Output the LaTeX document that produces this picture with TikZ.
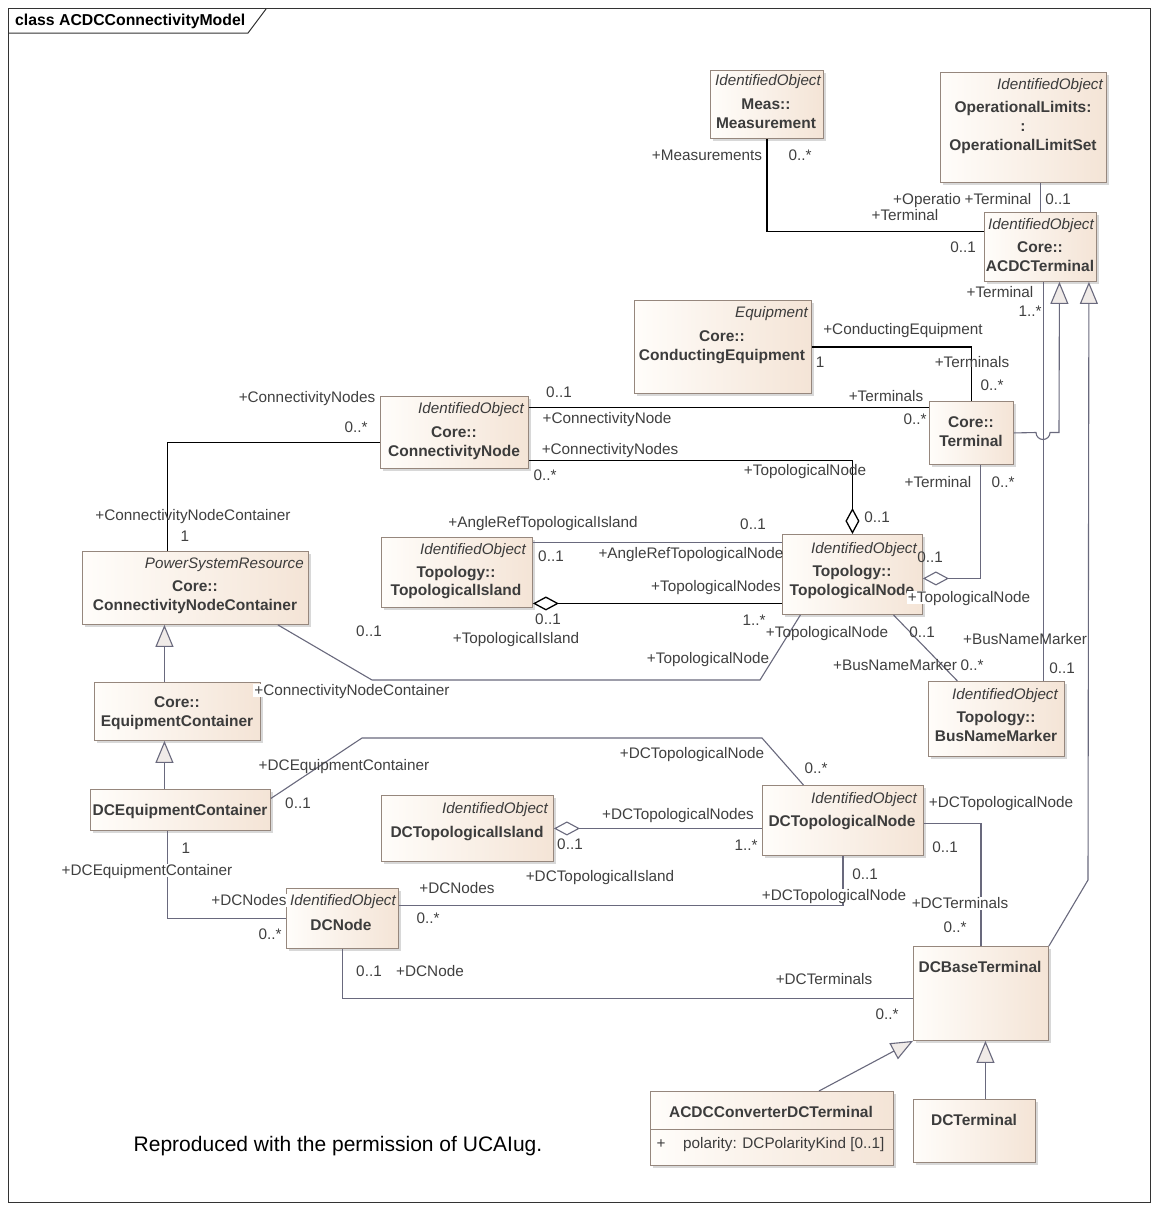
\documentclass[tikz,border=0pt]{standalone}
\usepackage{fontspec}
\setmainfont{Liberation Sans}
\usetikzlibrary{arrows.meta,shadows}
\definecolor{boxc}{RGB}{150,135,125}
\definecolor{fillL}{RGB}{255,253,250}
\definecolor{fillR}{RGB}{244,228,214}
\definecolor{txtc}{RGB}{60,60,60}
\definecolor{lblc}{RGB}{64,64,64}
\definecolor{grayc}{RGB}{105,105,125}
\definecolor{trifill}{RGB}{240,235,232}
\tikzset{
  cls/.style={draw=boxc, line width=0.9pt, left color=fillL, right color=fillR,
    drop shadow={shadow xshift=3pt,shadow yshift=-3pt,fill=black!30,opacity=0.5},
    inner sep=0pt, anchor=north west},
  cname/.style={font=\bfseries\fontsize{15.5}{19}\selectfont, text=txtc, inner sep=0pt, text height=11.2pt, text depth=0pt},
  ster/.style={font=\itshape\fontsize{15.2}{17}\selectfont, text=txtc, inner sep=0pt, anchor=east, text height=10.8pt, text depth=0pt},
  lbl/.style={font=\fontsize{15.3}{18}\selectfont, text=lblc, inner sep=1pt, text height=11pt, text depth=0pt},
  lblw/.style={lbl, fill=white},
  blk/.style={draw=black, line width=1.3pt},
  gry/.style={draw=grayc, line width=1.1pt},
  gen/.style={gry, arrows={-{Triangle[length=22pt,width=18pt,fill=trifill]}}},
  aggd/.style={arrows={{Diamond[length=26pt,width=14pt,fill=white]}-}},
}
\begin{document}
\begin{tikzpicture}[x=1pt,y=-1pt]
\useasboundingbox (0,0) rectangle (1158,1210);
\fill[white] (0,0) rectangle (1158,1210);
% frame
\draw[line width=1pt, draw=black!80] (8,8) rectangle (1150,1202);
\draw[line width=1pt, draw=black!80] (8,33) -- (248,33) -- (266,9);
\node[font=\bfseries\fontsize{15.8}{18}\selectfont, anchor=west, inner sep=0pt, text=black] (title) at (15,21) {class ACDCConnectivityModel};

% boxes
\node[cls, minimum width=113, minimum height=68] (meas) at (710,70) {};
\node[cls, minimum width=166, minimum height=110] (opl) at (940,72) {};
\node[cls, minimum width=112, minimum height=69] (acdct) at (984,212) {};
\node[cls, minimum width=177, minimum height=93] (condeq) at (634,300) {};
\node[cls, minimum width=148, minimum height=72] (cn) at (380,396) {};
\node[cls, minimum width=84, minimum height=63] (term) at (929,401) {};
\node[cls, minimum width=226, minimum height=73] (cnc) at (82,551) {};
\node[cls, minimum width=151, minimum height=70] (ti) at (381,537) {};
\node[cls, minimum width=140, minimum height=80] (tn) at (782,534) {};
\node[cls, minimum width=136, minimum height=75] (bnm) at (928,681) {};
\node[cls, minimum width=166, minimum height=58] (eqc) at (94,682) {};
\node[cls, minimum width=180, minimum height=41] (dceqc) at (90,789) {};
\node[cls, minimum width=172, minimum height=66] (dcti) at (381,795) {};
\node[cls, minimum width=161, minimum height=70] (dctn) at (762,785) {};
\node[cls, minimum width=112, minimum height=60] (dcn) at (286,888) {};
\node[cls, minimum width=135, minimum height=94] (dcbt) at (913,946) {};
\node[cls, minimum width=243, minimum height=74] (acdccdt) at (650,1091) {};
\node[cls, minimum width=122, minimum height=63] (dct) at (913,1099) {};
\draw[draw=boxc, line width=0.9pt] ([yshift=-1]acdccdt.west) -- ([yshift=-1]acdccdt.east);

% box texts
\node[ster] (meas-s) at (821,80) {IdentifiedObject};
\node[cname] (meas-1) at (766,104) {Meas::};
\node[cname] (meas-2) at (766,123) {Measurement};
\node[ster] (opl-s) at (1103,84) {IdentifiedObject};
\node[cname] (opl-1) at (1023,107) {OperationalLimits:};
\node[cname] (opl-2) at (1023,126) {:};
\node[cname] (opl-3) at (1023,145) {OperationalLimitSet};
\node[ster] (acdct-s) at (1094,224) {IdentifiedObject};
\node[cname] (acdct-1) at (1040,247) {Core::};
\node[cname] (acdct-2) at (1040,266) {ACDCTerminal};
\node[ster] (condeq-s) at (808,312) {Equipment};
\node[cname] (condeq-1) at (722,336) {Core::};
\node[cname] (condeq-2) at (722,355) {ConductingEquipment};
\node[ster] (cn-s) at (524,408) {IdentifiedObject};
\node[cname] (cn-1) at (454,432) {Core::};
\node[cname] (cn-2) at (454,451) {ConnectivityNode};
\node[cname] (term-1) at (971,422) {Core::};
\node[cname] (term-2) at (971,441) {Terminal};
\node[ster] (cnc-s) at (304,563) {PowerSystemResource};
\node[cname] (cnc-1) at (195,586) {Core::};
\node[cname] (cnc-2) at (195,605) {ConnectivityNodeContainer};
\node[ster] (ti-s) at (526,549) {IdentifiedObject};
\node[cname] (ti-1) at (456,572) {Topology::};
\node[cname] (ti-2) at (456,590) {TopologicalIsland};
\node[ster] (tn-s) at (917,548) {IdentifiedObject};
\node[cname] (tn-1) at (852,571) {Topology::};
\node[cname] (tn-2) at (852,590) {TopologicalNode};
\node[ster] (bnm-s) at (1058,694) {IdentifiedObject};
\node[cname] (bnm-1) at (996,717) {Topology::};
\node[cname] (bnm-2) at (996,736) {BusNameMarker};
\node[cname] (eqc-1) at (177,702) {Core::};
\node[cname] (eqc-2) at (177,721) {EquipmentContainer};
\node[cname] (dceqc-1) at (180,810) {DCEquipmentContainer};
\node[ster] (dcti-s) at (548,808) {IdentifiedObject};
\node[cname] (dcti-1) at (467,832) {DCTopologicalIsland};
\node[ster] (dctn-s) at (917,798) {IdentifiedObject};
\node[cname] (dctn-1) at (842,821) {DCTopologicalNode};
\node[ster] (dcn-s) at (396,900) {IdentifiedObject};
\node[cname] (dcn-1) at (341,925) {DCNode};
\node[cname] (dcbt-1) at (980,967) {DCBaseTerminal};
\node[cname] (acdccdt-1) at (771,1112) {ACDCConverterDCTerminal};
\node[lbl, text=txtc] (acdccdt-p) at (661,1143) {+};
\node[lbl, text=txtc, anchor=west] (acdccdt-a) at (682,1143) {polarity: DCPolarityKind [0..1]};
\node[cname] (dct-1) at (974,1120) {DCTerminal};

% connectors
\draw[blk] (meas.south) |- ([yshift=15.5]acdct.west);
\draw[gry] (acdct.north) -- (acdct.north |- opl.south);
\draw[gry] ([xshift=3]acdct.south) -- ([xshift=3]acdct.south |- bnm.north);
\draw[gen] (term.east) -- (1036,432.5) arc[start angle=180,end angle=0,radius=7] -- (1059,432.5) -- ([xshift=19]acdct.south);
\draw[gen] (dcbt.north east) -- (1088,880) -- ([xshift=-8]acdct.south east);
\draw[blk] (condeq.east) -| (term.north);
\draw[blk] ([yshift=25]cn.east) -- ([yshift=25.5]term.west);
\draw[blk, aggd] (tn.north) |- ([yshift=-28]cn.east);
\draw[blk] ([yshift=-10]cn.west) -| ([xshift=-28]cnc.north);
\draw[gry, aggd] ([yshift=-4]tn.east) -| ([xshift=9]term.south);
\draw[gry] ([yshift=30]ti.east) -- ([yshift=32]tn.west);
\draw[blk, aggd] ([yshift=-31]ti.east) -- ([yshift=-29]tn.west);
\draw[gry] ([xshift=-31]cnc.south east) -- (372,680) -- (760,680) -- ([xshift=-52]tn.south);
\draw[gry] ([xshift=41]tn.south) -- ([xshift=-39]bnm.north);
\draw[gen] ([xshift=-13]eqc.north) -- ([xshift=-13]eqc.north |- cnc.south);
\draw[gen] ([xshift=-16]dceqc.north) -- ([xshift=-16]dceqc.north |- eqc.south);
\draw[gry] ([yshift=11.5]dceqc.east) -- (362,738) -- (762,738) -- ([xshift=-39.5]dctn.north);
\draw[gry] ([xshift=-13]dceqc.south) |- (dcn.west);
\draw[gry, aggd] (dcti.east) -- (dcti.east -| dctn.west);
\draw[gry] ([yshift=13]dcn.east) -| (dctn.south);
\draw[gry] ([yshift=-3]dctn.east) -| (dcbt.north);
\draw[gry] (dcn.south) |- ([yshift=-5]dcbt.west);
\draw[gen] ([xshift=47]acdccdt.north) -- (dcbt.south west);
\draw[gen] ([xshift=11]dct.north) -- ([xshift=11]dct.north |- dcbt.south);

% labels
\node[lbl] (l1) at (707,155) {+Measurements};
\node[lbl] (l2) at (800,155) {0..*};
\node[lbl] (l3) at (905,215) {+Terminal};
\node[lbl] (l4) at (963,247) {0..1};
\node[lbl, anchor=east] (l5) at (962,199) {+Operatio};
\node[lblw] (l6) at (998,199) {+Terminal};
\node[lbl] (l7) at (1058,199) {0..1};
\node[lbl] (l8) at (1000,292) {+Terminal};
\node[lbl] (l9) at (1030,311) {1..*};
\node[lbl] (l10) at (1025,639) {+BusNameMarker};
\node[lbl] (l11) at (1062,668) {0..1};
\node[lbl] (l12) at (903,329) {+ConductingEquipment};
\node[lbl] (l13) at (820,362) {1};
\node[lbl] (l14) at (972,362) {+Terminals};
\node[lbl] (l15) at (992,385) {0..*};
\node[lbl] (l16) at (559,392) {0..1};
\node[lbl] (l17) at (607,418) {+ConnectivityNode};
\node[lbl] (l18) at (886,396) {+Terminals};
\node[lbl] (l19) at (915,419) {0..*};
\node[lbl] (l20) at (610,449) {+ConnectivityNodes};
\node[lbl] (l21) at (545,475) {0..*};
\node[lbl] (l22) at (805,470) {+TopologicalNode};
\node[lbl] (l23) at (877,517) {0..1};
\node[lbl] (l24) at (307,397) {+ConnectivityNodes};
\node[lbl] (l25) at (356,427) {0..*};
\node[lbl] (l26) at (193,515) {+ConnectivityNodeContainer};
\node[lbl] (l27) at (185,536) {1};
\node[lbl] (l28) at (543,522) {+AngleRefTopologicalIsland};
\node[lbl] (l29) at (753,524) {0..1};
\node[lbl] (l30) at (551,556) {0..1};
\node[lbl] (l31) at (691,553) {+AngleRefTopologicalNode};
\node[lbl] (l32) at (716,586) {+TopologicalNodes};
\node[lbl] (l33) at (754,620) {1..*};
\node[lbl] (l34) at (548,619) {0..1};
\node[lbl] (l35) at (516,638) {+TopologicalIsland};
\node[lbl] (l36) at (938,482) {+Terminal};
\node[lbl] (l37) at (1003,482) {0..*};
\node[lbl] (l38) at (930,557) {0..1};
\node[lblw] (l39) at (969,597) {+TopologicalNode};
\node[lbl] (l40) at (369,631) {0..1};
\node[lblw] (l41) at (352,690) {+ConnectivityNodeContainer};
\node[lbl] (l42) at (708,658) {+TopologicalNode};
\node[lbl] (l43) at (827,632) {+TopologicalNode};
\node[lbl] (l44) at (922,632) {0..1};
\node[lbl] (l45) at (895,665) {+BusNameMarker};
\node[lbl] (l46) at (972,665) {0..*};
\node[lbl] (l47) at (344,765) {+DCEquipmentContainer};
\node[lbl] (l48) at (298,803) {0..1};
\node[lbl] (l49) at (692,753) {+DCTopologicalNode};
\node[lbl] (l50) at (816,768) {0..*};
\node[lbl] (l51) at (186,848) {1};
\node[lblw] (l52) at (147,870) {+DCEquipmentContainer};
\node[lblw] (l53) at (249,900) {+DCNodes};
\node[lbl] (l54) at (270,934) {0..*};
\node[lbl] (l55) at (678,814) {+DCTopologicalNodes};
\node[lbl] (l56) at (570,844) {0..1};
\node[lbl] (l57) at (746,845) {1..*};
\node[lbl] (l58) at (600,876) {+DCTopologicalIsland};
\node[lbl] (l59) at (457,888) {+DCNodes};
\node[lbl] (l60) at (428,918) {0..*};
\node[lbl] (l61) at (865,874) {0..1};
\node[lblw] (l62) at (834,895) {+DCTopologicalNode};
\node[lbl] (l63) at (1001,802) {+DCTopologicalNode};
\node[lbl] (l64) at (945,847) {0..1};
\node[lblw] (l65) at (960,903) {+DCTerminals};
\node[lbl] (l66) at (955,927) {0..*};
\node[lbl] (l67) at (369,971) {0..1};
\node[lbl] (l68) at (430,971) {+DCNode};
\node[lbl] (l69) at (824,979) {+DCTerminals};
\node[lbl] (l70) at (887,1014) {0..*};

\node[font=\fontsize{21}{24}\selectfont, text=black, inner sep=0pt] (note) at (338,1146) {Reproduced with the permission of UCAIug.};
\end{tikzpicture}
\end{document}
